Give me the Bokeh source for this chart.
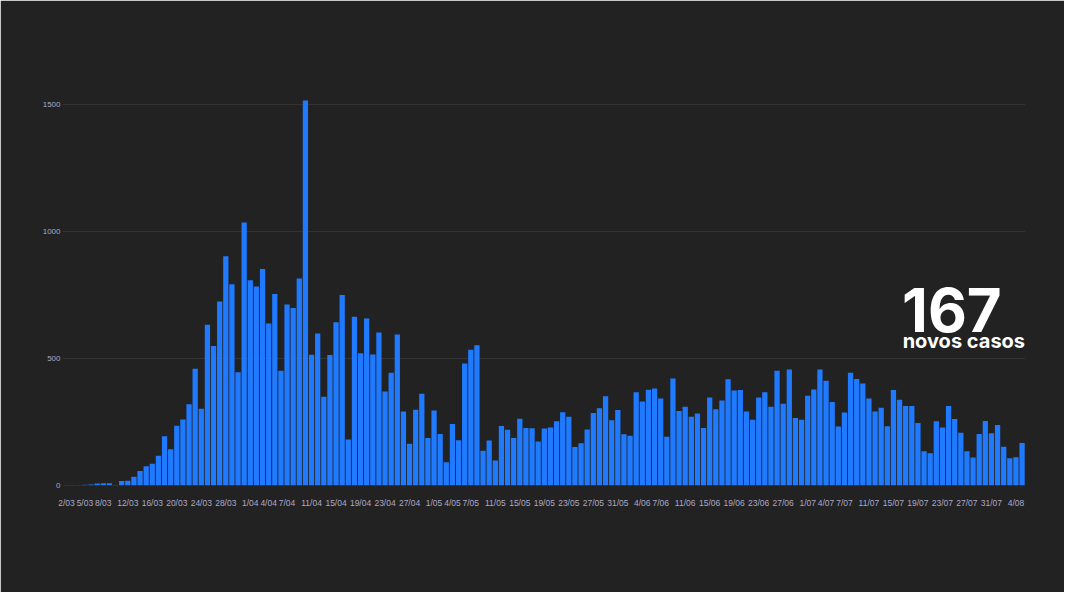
import pandas as pd
from bokeh.plotting import figure
from bokeh.models import ColumnDataSource, FixedTicker, Range1d, Label
from bokeh.embed import file_html
from bokeh.resources import INLINE

# novos casos por dia, de 2/03 a 5/08
cases = [2, 2, 2, 3, 4, 8, 9, 9, 2, 18, 19, 34, 57, 76, 86, 117, 194, 143, 235, 260,
         320, 460, 302, 633, 549, 724, 902, 792, 446, 1035, 808, 783, 852, 638, 754, 452,
         712, 699, 815, 1516, 515, 598, 349, 514, 643, 750, 181, 664, 521, 657, 516, 602,
         370, 444, 594, 291, 164, 298, 361, 187, 295, 203, 92, 242, 178, 480, 534, 552,
         137, 177, 98, 234, 219, 187, 263, 226, 225, 173, 224, 228, 253, 288, 271, 152,
         166, 220, 285, 304, 351, 257, 297, 202, 196, 367, 331, 377, 382, 342, 192, 421,
         293, 310, 271, 283, 226, 346, 300, 335, 418, 374, 376, 291, 259, 346, 367, 310,
         452, 322, 457, 266, 259, 353, 378, 457, 412, 329, 232, 287, 444, 419, 402, 342,
         291, 306, 233, 376, 338, 313, 313, 246, 135, 127, 253, 228, 313, 262, 208, 135,
         110, 203, 254, 206, 238, 153, 107, 111, 167]

dates = [f"{d.day}/{d.month:02d}" for d in pd.date_range("2020-03-02", periods=len(cases))]

tick_labels = ["2/03", "5/03", "8/03", "12/03", "16/03", "20/03", "24/03", "28/03",
               "1/04", "4/04", "7/04", "11/04", "15/04", "19/04", "23/04", "27/04",
               "1/05", "4/05", "7/05", "11/05", "15/05", "19/05", "23/05", "27/05", "31/05",
               "4/06", "7/06", "11/06", "15/06", "19/06", "23/06", "27/06",
               "1/07", "4/07", "7/07", "11/07", "15/07", "19/07", "23/07", "27/07", "31/07",
               "4/08"]
y_ticks = [0, 500, 1000, 1500]

BG = "#222222"
BLUE = "#1f7aff"
TXT = "#aba9c8"

src = ColumnDataSource(dict(x=list(range(len(cases))), y=cases, day=dates))

p = figure(width=1064, height=592, output_backend="svg", toolbar_location=None,
           x_range=Range1d(-0.66, len(cases) - 0.44), y_range=Range1d(0, 1547),
           min_border_left=62, min_border_right=39, min_border_top=92, min_border_bottom=107)
p.background_fill_color = BG
p.border_fill_color = BG
p.outline_line_color = BG
p.outline_line_width = 2

p.vbar(x="x", top="y", width=0.86, source=src, fill_color=BLUE, line_color=None)

tick_pos = [dates.index(t) for t in tick_labels]
p.xaxis.ticker = FixedTicker(ticks=tick_pos)
p.xaxis.major_label_overrides = {i: t for i, t in zip(tick_pos, tick_labels)}
p.yaxis.ticker = FixedTicker(ticks=y_ticks)

for ax in (p.xaxis, p.yaxis):
    ax.axis_line_color = None
    ax.major_tick_line_color = None
    ax.minor_tick_line_color = None
    ax.major_label_text_color = TXT
    ax.major_label_text_font = "Liberation Sans"
    ax.major_label_text_font_size = "8.5px"
p.xaxis.major_label_standoff = 6
p.yaxis.major_label_standoff = -4
p.yaxis.major_label_text_font_size = "8px"

p.xgrid.grid_line_color = None
p.ygrid.grid_line_color = "#343434"
p.ygrid.grid_line_width = 1

p.add_layout(Label(x=136.4, y=604, text=str(cases[-1]), text_color="white",
                   text_font="Inter", text_font_style="bold", text_font_size="60px"))
p.add_layout(Label(x=136.5, y=522, text="novos casos", text_color="white",
                   text_font="Inter", text_font_style="bold", text_font_size="20px"))

open("out.html", "w").write(file_html(p, INLINE))
